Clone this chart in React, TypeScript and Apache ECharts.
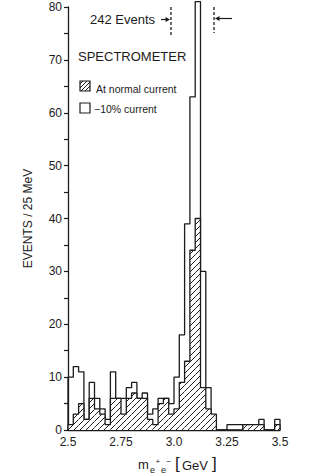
import React, { useEffect, useRef } from "react";
import * as echarts from "echarts";

// bins of 25 MeV starting at 2.5 GeV
const BIN_START = 2.5;
const BIN_WIDTH = 0.025;
// -10% current (open histogram)
const OPEN_COUNTS = [
  10, 12, 11, 2, 9, 6, 4, 2, 11, 6,
  6, 8, 9, 6, 7, 3, 4, 6, 6, 5,
  10, 18, 39, 63, 81, 30, 8, 0, 0, 0,
  1, 1, 1, 0, 1, 1, 2, 0, 0, 2,
];
// normal current (hatched histogram)
const HATCH_COUNTS = [
  1, 3, 5, 2, 6, 4, 3, 1, 6, 6,
  3, 6, 7, 6, 6, 2, 1, 5, 6, 3,
  4, 9, 13, 34, 40, 8, 4, 3, 0, 0,
  0, 0, 0, 1, 1, 1, 1, 0, 0, 1,
];
const X_TICK_LABELS: Record<number, string> = { 250: "2.5", 275: "2.75", 300: "3.0", 325: "3.25", 350: "3.5" };
const Y_TICK_LABELS = [0, 10, 20, 30, 40, 50, 60, 70, 80];

const INK = "#1c1c1c";
const FONT = "Liberation Sans, Arial, sans-serif";

function stepData(counts: number[]) {
  const pts: number[][] = [[BIN_START, 0]];
  counts.forEach((c, i) => pts.push([BIN_START + i * BIN_WIDTH, c]));
  const end = BIN_START + counts.length * BIN_WIDTH;
  pts.push([end, counts[counts.length - 1]]);
  pts.push([end, 0]);
  return pts;
}

function hatchLines(x0: number, yt: number, x1: number, yb: number, sp: number, stroke: string) {
  const out: any[] = [];
  const cMin = x0 + yt, cMax = x1 + yb;
  for (let c = Math.ceil(cMin / sp) * sp; c <= cMax; c += sp) {
    const lo = Math.max(x0, c - yb), hi = Math.min(x1, c - yt);
    if (hi - lo > 0.3) {
      out.push({ type: "line", shape: { x1: lo, y1: c - lo, x2: hi, y2: c - hi }, style: { stroke, lineWidth: 1 } });
    }
  }
  return out;
}

export default function App() {
  const ref = useRef<HTMLDivElement>(null);
  useEffect(() => {
    document.body.style.margin = "0";
    const chart = echarts.init(ref.current!, undefined, { renderer: "svg" });
    const hatchData = HATCH_COUNTS.map((c, i) => [BIN_START + i * BIN_WIDTH, BIN_START + (i + 1) * BIN_WIDTH, c]).filter((d) => d[2] > 0);

    const legendHatch = [
      { type: "rect", shape: { x: 80, y: 81, width: 10, height: 10 }, style: { fill: "#fff", stroke: INK, lineWidth: 1.2 } },
      ...hatchLines(80, 81, 90, 91, 4, INK),
    ];

    const option: any = {
      animation: false,
      backgroundColor: "#fff",
      grid: { left: 68, right: 31, top: 7, bottom: 45 },
      xAxis: {
        type: "value", min: 2.5, max: 3.5, interval: 0.25,
        axisLine: { show: true, onZero: false, lineStyle: { color: INK, width: 1.3 } },
        axisTick: { show: false },
        splitLine: { show: false },
        axisLabel: {
          color: INK, fontFamily: FONT, fontSize: 12, margin: 6,
          formatter: (v: number) => X_TICK_LABELS[Math.round(v * 100)] ?? "",
        },
      },
      yAxis: {
        type: "value", min: 0, max: 80, interval: 5,
        name: "EVENTS / 25 MeV", nameLocation: "middle", nameGap: 34, nameRotate: 90,
        nameTextStyle: { color: INK, fontFamily: FONT, fontSize: 12 },
        axisLine: { show: true, lineStyle: { color: INK, width: 1.3 } },
        axisTick: { show: true, inside: false, length: 4, lineStyle: { color: INK, width: 1.2 } },
        splitLine: { show: false },
        axisLabel: {
          color: INK, fontFamily: FONT, fontSize: 12, margin: 6,
          formatter: (v: number) => (Y_TICK_LABELS.includes(v) ? String(v) : ""),
        },
      },
      series: [
        {
          type: "line", data: stepData(OPEN_COUNTS), step: "end", symbol: "none", clip: false, z: 2,
          lineStyle: { color: INK, width: 1.3 },
        },
        {
          type: "custom", data: hatchData, z: 3,
          encode: { x: [0, 1], y: 2 },
          renderItem: (params: any, api: any) => {
            const s = api.value(0), e = api.value(1), v = api.value(2);
            const p0 = api.coord([s, v]);
            const p1 = api.coord([e, 0]);
            const x0 = p0[0], yt = p0[1], x1 = p1[0], yb = p1[1];
            return {
              type: "group",
              children: [
                { type: "rect", shape: { x: x0, y: yt, width: x1 - x0, height: yb - yt }, style: { fill: "#fff", stroke: "none" } },
                ...hatchLines(x0, yt, x1, yb, 6, INK),
              ],
            };
          },
        },
        {
          type: "line", data: stepData(HATCH_COUNTS), step: "end", symbol: "none", clip: false, z: 4,
          lineStyle: { color: INK, width: 1.3 },
        },
      ],
      graphic: [
        { type: "text", x: 90, y: 13, style: { text: "242 Events", font: `13px ${FONT}`, fill: INK } },
        { type: "line", shape: { x1: 161, y1: 19.5, x2: 168, y2: 19.5 }, style: { stroke: INK, lineWidth: 1.2 } },
        { type: "polygon", shape: { points: [[170, 19.5], [165.5, 17], [165.5, 22]] }, style: { fill: INK } },
        { type: "line", shape: { x1: 171, y1: 7, x2: 171, y2: 35 }, style: { stroke: INK, lineWidth: 1.3, lineDash: [3, 2] } },
        { type: "line", shape: { x1: 214, y1: 7, x2: 214, y2: 33 }, style: { stroke: INK, lineWidth: 1.3, lineDash: [3, 2] } },
        { type: "line", shape: { x1: 217, y1: 18.5, x2: 232, y2: 18.5 }, style: { stroke: INK, lineWidth: 1.2 } },
        { type: "polygon", shape: { points: [[215, 18.5], [219.5, 16], [219.5, 21]] }, style: { fill: INK } },
        { type: "text", x: 78, y: 50, style: { text: "SPECTROMETER", font: `13px ${FONT}`, fill: INK } },
        ...legendHatch,
        { type: "text", x: 96, y: 83, style: { text: "At normal current", font: `10.5px ${FONT}`, fill: INK } },
        { type: "rect", shape: { x: 80, y: 103, width: 10, height: 10 }, style: { fill: "#fff", stroke: INK, lineWidth: 1.2 } },
        { type: "text", x: 94, y: 103, style: { text: "\u221210% current", font: `10.5px ${FONT}`, fill: INK } },
        // x axis name: m_{e+e-} [GeV]
        { type: "text", x: 138, y: 458, style: { text: "m", font: `13px ${FONT}`, fill: INK } },
        { type: "text", x: 150, y: 465, style: { text: "e", font: `9px ${FONT}`, fill: INK } },
        { type: "text", x: 155.5, y: 457, style: { text: "+", font: `8px ${FONT}`, fill: INK } },
        { type: "text", x: 161, y: 465, style: { text: "e", font: `9px ${FONT}`, fill: INK } },
        { type: "text", x: 166.5, y: 457, style: { text: "\u2212", font: `8px ${FONT}`, fill: INK } },
        { type: "text", x: 175, y: 455, style: { text: "[", font: `17px ${FONT}`, fill: INK } },
        { type: "text", x: 182, y: 459, style: { text: "GeV", font: `13px ${FONT}`, fill: INK } },
        { type: "text", x: 212, y: 455, style: { text: "]", font: `17px ${FONT}`, fill: INK } },
      ],
    };
    chart.setOption(option);
    return () => chart.dispose();
  }, []);
  return <div ref={ref} style={{ width: 311, height: 475 }} />;
}
